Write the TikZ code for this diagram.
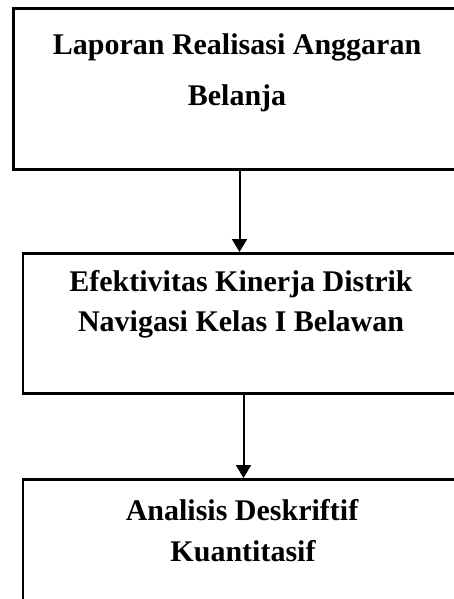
\documentclass[tikz,border=0pt]{standalone}
\usepackage{fontspec}
\setmainfont{Liberation Serif}
\usetikzlibrary{arrows.meta}
\begin{document}
\begin{tikzpicture}[x=1pt,y=-1pt,
  box/.style={draw=black,line width=2.6pt,inner sep=0pt},
  lbl/.style={anchor=base,inner sep=0pt,font=\fontsize{30}{36}\bfseries\selectfont},
  conn/.style={line width=2pt,-{Triangle[width=15pt,length=13pt]}}]
\useasboundingbox (0,0) rectangle (454,599);
\clip (0,0) rectangle (454,599);
% boxes
\node[box,minimum width=490pt,minimum height=161pt,anchor=north west] (b1) at (12,7) {};
\node[box,minimum width=490pt,minimum height=140pt,anchor=north west] (b2) at (21.5,252) {};
\node[box,minimum width=490pt,minimum height=160pt,anchor=north west] (b3) at (21.5,478) {};
% texts
\node[lbl] (t1a) at (237,54.5) {Laporan Realisasi Anggaran};
\node[lbl] (t1b) at (237,105.7) {Belanja};
\node[lbl] (t2a) at (241,291.7) {Efektivitas Kinerja Distrik};
\node[lbl] (t2b) at (241,331.7) {Navigasi Kelas I Belawan};
\node[lbl] (t3a) at (242,520) {Analisis Deskriftif};
\node[lbl] (t3b) at (243,561.7) {Kuantitasif};
% connectors
\coordinate (x1) at (239.5,0);
\coordinate (x2) at (243.5,0);
\draw[conn] (x1 |- b1.south) -- (x1 |- b2.north);
\draw[conn] (x2 |- b2.south) -- (x2 |- b3.north);
\end{tikzpicture}
\end{document}
